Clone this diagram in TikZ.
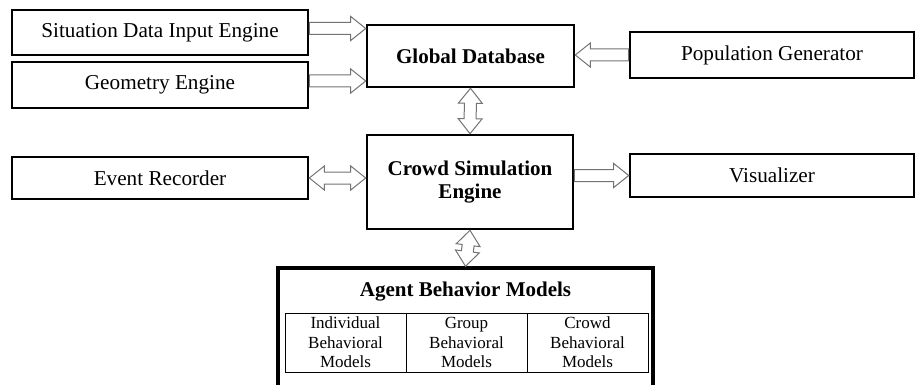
\documentclass[tikz,border=0pt]{standalone}
\usepackage{fontspec}
\setmainfont{Liberation Serif}
\usetikzlibrary{calc}

\newcommand{\shaftw}{3pt}
\newcommand{\headw}{6pt}
\newcommand{\headlen}{7.5pt}
\newcommand{\blockarrow}[2]{%
  \coordinate (ba-s) at (#1);
  \coordinate (ba-e) at (#2);
  \coordinate (ba-h) at ($(ba-e)!\headlen!(ba-s)$);
  \draw[hollowarrow] ($(ba-s)!\shaftw!90:(ba-e)$) -- ($(ba-h)!\shaftw!90:(ba-e)$)
    -- ($(ba-h)!\headw!90:(ba-e)$) -- (ba-e) -- ($(ba-h)!\headw!-90:(ba-e)$)
    -- ($(ba-h)!\shaftw!-90:(ba-e)$) -- ($(ba-s)!\shaftw!-90:(ba-e)$) -- cycle;
}
\newcommand{\dblarrow}[2]{%
  \coordinate (ba-s) at (#1);
  \coordinate (ba-e) at (#2);
  \coordinate (ba-h) at ($(ba-s)!\headlen!(ba-e)$);
  \coordinate (ba-k) at ($(ba-e)!\headlen!(ba-s)$);
  \draw[hollowarrow] (ba-s) -- ($(ba-h)!\headw!90:(ba-e)$) -- ($(ba-h)!\shaftw!90:(ba-e)$)
    -- ($(ba-k)!\shaftw!90:(ba-e)$) -- ($(ba-k)!\headw!90:(ba-e)$) -- (ba-e)
    -- ($(ba-k)!\headw!-90:(ba-e)$) -- ($(ba-k)!\shaftw!-90:(ba-e)$)
    -- ($(ba-h)!\shaftw!-90:(ba-e)$) -- ($(ba-h)!\headw!-90:(ba-e)$) -- cycle;
}

\begin{document}
\begin{tikzpicture}[x=0.5pt, y=-0.5pt,
  mainbox/.style={draw, line width=1.3pt, align=center, inner sep=2pt, font=\fontsize{10.6}{12}\selectfont},
  corebox/.style={mainbox, font=\fontsize{10.5}{11.5}\selectfont\bfseries},
  cellbox/.style={draw, line width=0.5pt, minimum width=60.5pt, minimum height=29.5pt, align=center, inner sep=1pt, font=\fontsize{8.5}{9.75}\selectfont},
  hollowarrow/.style={draw=black!55, line width=0.5pt, fill=white, line join=miter}]
  \useasboundingbox (0,0) rectangle (915,385);
  \node[mainbox, minimum width=148pt, minimum height=22.5pt] (sit) at (160,32.5) {Situation Data Input Engine};
  \node[mainbox, minimum width=148pt, minimum height=23pt] (geo) at (160,85) {Geometry Engine};
  \node[corebox, minimum width=103.5pt, minimum height=31pt] (glob) at (470.5,56) {Global Database};
  \node[mainbox, minimum width=142pt, minimum height=23pt] (pop) at (772,55) {Population Generator};
  \node[corebox, minimum width=103pt, minimum height=47pt] (crowd) at (470,182) {Crowd Simulation\\Engine};
  \node[mainbox, minimum width=148pt, minimum height=21pt] (event) at (160,178) {Event Recorder};
  \node[mainbox, minimum width=142pt, minimum height=21.5pt] (vis) at (772,175.5) {Visualizer};
  \node[draw, line width=1.7pt, minimum width=187.5pt, minimum height=63.5pt] (agent) at (465.5,331.5) {};
  \node[font=\fontsize{10.5}{12}\selectfont\bfseries] (agenttitle) at (465.5,292) {Agent Behavior Models};
  \node[cellbox] (indiv) at (345.5,342.5) {Individual\\Behavioral\\Models};
  \node[cellbox] (group) at (466.5,342.5) {Group\\Behavioral\\Models};
  \node[cellbox] (crowdm) at (587.5,342.5) {Crowd\\Behavioral\\Models};
  \coordinate (sitout) at ([yshift=2pt]sit.east);
  \coordinate (geoout) at ([yshift=2pt]geo.east);
  \blockarrow{sitout}{sitout -| glob.west}
  \blockarrow{geoout}{geoout -| glob.west}
  \blockarrow{pop.west}{pop.west -| glob.east}
  \blockarrow{vis.west -| crowd.east}{vis.west}
  \dblarrow{event.east}{event.east -| crowd.west}
  \dblarrow{glob.south}{crowd.north}
  \dblarrow{crowd.south}{agent.north}
\end{tikzpicture}
\end{document}
